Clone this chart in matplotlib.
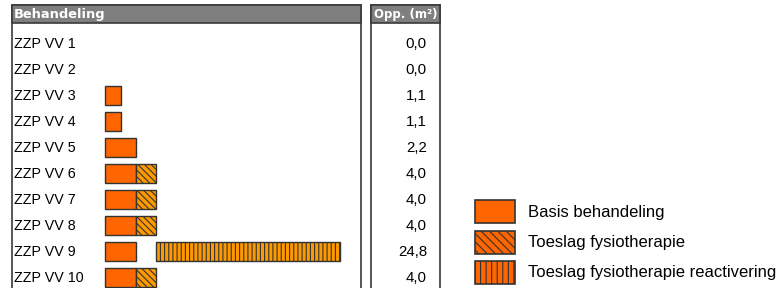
import matplotlib
matplotlib.use("Agg")
import matplotlib.pyplot as plt
from matplotlib.patches import Rectangle
import matplotlib.transforms as mtransforms

# ---- data ----
categories = ["ZZP VV 1", "ZZP VV 2", "ZZP VV 3", "ZZP VV 4", "ZZP VV 5",
              "ZZP VV 6", "ZZP VV 7", "ZZP VV 8", "ZZP VV 9", "ZZP VV 10"]
basis = [0, 0, 1.1, 1.1, 2.2, 2.2, 2.2, 2.2, 2.2, 2.2]
fysio = [0, 0, 0, 0, 0, 1.4, 1.4, 1.4, 0, 1.4]
gap = [0, 0, 0, 0, 0, 0, 0, 0, 1.4, 0]
reactivering = [0, 0, 0, 0, 0, 0, 0, 0, 13.1, 0]
opp_labels = ["0,0", "0,0", "1,1", "1,1", "2,2", "4,0", "4,0", "4,0", "24,8", "4,0"]
legend_labels = ["Basis behandeling", "Toeslag fysiotherapie",
                 "Toeslag fysiotherapie reactivering"]
header_left = "Behandeling"
header_right = "Opp. (m²)"

W, H = 783, 288
plt.rcParams['hatch.linewidth'] = 0.8
fig = plt.figure(figsize=(W / 100, H / 100), dpi=100)
fig.patch.set_facecolor("white")

# axes covering whole figure; data scale chosen so bars land where reference has them
ax = fig.add_axes([0, 0, 1, 1])
ax.set_axis_off()
px_per_unit = 14.1
x0 = 105
ax.set_xlim(-x0 / px_per_unit, (W - x0) / px_per_unit)
row0, rowstep = 43.5, 26
ax.set_ylim((H - row0) / rowstep, -row0 / rowstep)

def fx(x):
    return x / W

def fy(y):
    return 1 - y / H

def rect_px(x1, y1, x2, y2, **kw):
    r = Rectangle((fx(x1), fy(y2)), fx(x2) - fx(x1), fy(y1) - fy(y2),
                  transform=fig.transFigure, **kw)
    ax.add_patch(r)
    return r

border = "#3a3a3a"
hdr = "#7f7f7f"
# left panel
rect_px(12, 5, 361, 320, facecolor="white", edgecolor=border, lw=1.2, zorder=0)
rect_px(12, 5, 361, 23, facecolor=hdr, edgecolor=border, lw=1.2, zorder=0.5)
# right panel
rect_px(371, 5, 440, 320, facecolor="white", edgecolor=border, lw=1.2, zorder=0)
rect_px(371, 5, 440, 23, facecolor=hdr, edgecolor=border, lw=1.2, zorder=0.5)

fig.text(fx(14), fy(14.5), header_left, color="white", fontweight="bold",
         fontsize=9.4, family="DejaVu Sans", va="center", ha="left")
fig.text(fx(374), fy(14.5), header_right, color="white", fontweight="bold",
         fontsize=8.5, family="DejaVu Sans", va="center", ha="left")

ypos = list(range(len(categories)))
bh = 0.72
edge = "#333333"
ax.barh(ypos, basis, height=bh, color="#FF6600", edgecolor=edge, lw=1, zorder=2)
ax.barh(ypos, fysio, left=basis, height=bh, color="#FF9900", edgecolor=edge,
        lw=1, hatch="\\\\\\\\\\", zorder=2)
react_left = [b + f + g for b, f, g in zip(basis, fysio, gap)]
ax.barh(ypos, reactivering, left=react_left, height=bh, color="#FF9900",
        edgecolor=edge, lw=1, hatch="||||", zorder=2)
# hide zero-width bars' outlines
for c in ax.containers:
    for p in c.patches:
        if p.get_width() == 0:
            p.set_visible(False)

trans_lab = mtransforms.blended_transform_factory(fig.transFigure, ax.transData)
for i, (cat, v) in enumerate(zip(categories, opp_labels)):
    ax.text(fx(14), i, cat, transform=trans_lab, fontsize=10.3,
            family="Liberation Sans", va="center", ha="left", color="black")
    ax.text(fx(427), i, v, transform=trans_lab, fontsize=10.8,
            family="Liberation Sans", va="center", ha="right", color="black")

# legend
leg_hatches = [None, "\\\\\\\\", "|||"]
leg_y = [200, 231, 261]
for lab, h, y in zip(legend_labels, leg_hatches, leg_y):
    rect_px(475, y, 515, y + 23, facecolor="#FF6600", edgecolor=edge, lw=1.2,
            hatch=h, zorder=2)
    fig.text(fx(528), fy(y + 12), lab, fontsize=12, family="Liberation Sans",
             va="center", ha="left", color="black")

fig.savefig("out.png", dpi=100, facecolor="white")
